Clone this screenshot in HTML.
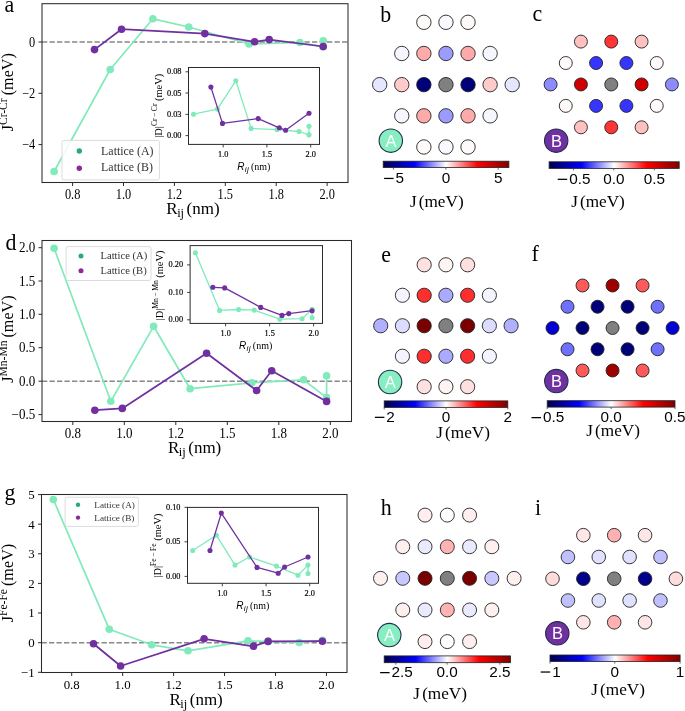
<!DOCTYPE html>
<html><head><meta charset="utf-8"><title>Figure</title>
<style>html,body{margin:0;padding:0;background:#fff;}svg{display:block;will-change:transform;}</style>
</head><body>
<svg width="685" height="711" viewBox="0 0 685 711">
<defs><linearGradient id="seis" x1="0" x2="1" y1="0" y2="0">
<stop offset="0" stop-color="rgb(0,0,77)"/>
<stop offset="0.25" stop-color="rgb(0,0,255)"/>
<stop offset="0.5" stop-color="rgb(255,255,255)"/>
<stop offset="0.75" stop-color="rgb(255,0,0)"/>
<stop offset="1" stop-color="rgb(128,0,0)"/>
</linearGradient></defs>
<rect width="685" height="711" fill="#fff"/>
<line x1="42" y1="42" x2="348" y2="42" stroke="#888" stroke-width="1.4" stroke-dasharray="5.3 2.2"/>
<polyline points="54.1,171.5 110.2,69.5 152.9,18.8 188.7,27 249,44 299.9,42.5 323.2,46.9 323.2,40.9" fill="none" stroke="#81eabb" stroke-width="1.7" stroke-linejoin="round" stroke-linecap="round"/>
<circle cx="54.1" cy="171.5" r="3.8" fill="#81eabb"/>
<circle cx="110.2" cy="69.5" r="3.8" fill="#81eabb"/>
<circle cx="152.9" cy="18.8" r="3.8" fill="#81eabb"/>
<circle cx="188.7" cy="27" r="3.8" fill="#81eabb"/>
<circle cx="249" cy="44" r="3.8" fill="#81eabb"/>
<circle cx="299.9" cy="42.5" r="3.8" fill="#81eabb"/>
<circle cx="323.2" cy="46.9" r="3.8" fill="#81eabb"/>
<circle cx="323.2" cy="40.9" r="3.8" fill="#81eabb"/>
<polyline points="94.5,49.6 121.5,29.2 204.8,33.6 254.6,41.8 269.2,39.6 323.2,46.5" fill="none" stroke="#7030a0" stroke-width="1.75" stroke-linejoin="round" stroke-linecap="round"/>
<circle cx="94.5" cy="49.6" r="3.8" fill="#7030a0"/>
<circle cx="121.5" cy="29.2" r="3.8" fill="#7030a0"/>
<circle cx="204.8" cy="33.6" r="3.8" fill="#7030a0"/>
<circle cx="254.6" cy="41.8" r="3.8" fill="#7030a0"/>
<circle cx="269.2" cy="39.6" r="3.8" fill="#7030a0"/>
<circle cx="323.2" cy="46.5" r="3.8" fill="#7030a0"/>
<rect x="62" y="140.4" width="97.4" height="39.5" rx="2" fill="#fff" fill-opacity="0.85" stroke="#dcdcdc" stroke-width="1"/>
<circle cx="79.3" cy="151" r="2.7" fill="#2aa87e"/>
<circle cx="79.3" cy="168.3" r="2.7" fill="#8b2a96"/>
<text x="101.1" y="154.5" font-size="11.9" text-anchor="start" font-family="'Liberation Serif', serif" fill="#333" >Lattice (A)</text>
<text x="101.1" y="171.3" font-size="11.9" text-anchor="start" font-family="'Liberation Serif', serif" fill="#333" >Lattice (B)</text>
<rect x="188.5" y="67.5" width="131" height="76.9" fill="#fff" stroke="none"/>
<polyline points="193.5,114.2 217.4,109.1 235.8,80.8 251.1,128.4 276.9,129.6 299,131.5 309,134.9 309,126.2" fill="none" stroke="#81eabb" stroke-width="1.3" stroke-linejoin="round" stroke-linecap="round"/>
<circle cx="193.5" cy="114.2" r="2.55" fill="#81eabb"/>
<circle cx="217.4" cy="109.1" r="2.55" fill="#81eabb"/>
<circle cx="235.8" cy="80.8" r="2.55" fill="#81eabb"/>
<circle cx="251.1" cy="128.4" r="2.55" fill="#81eabb"/>
<circle cx="276.9" cy="129.6" r="2.55" fill="#81eabb"/>
<circle cx="299" cy="131.5" r="2.55" fill="#81eabb"/>
<circle cx="309" cy="134.9" r="2.55" fill="#81eabb"/>
<circle cx="309" cy="126.2" r="2.55" fill="#81eabb"/>
<polyline points="210.9,87.1 222.5,123.4 258.2,118.6 279.3,127.8 285.6,130.2 309,113.3" fill="none" stroke="#7030a0" stroke-width="1.3" stroke-linejoin="round" stroke-linecap="round"/>
<circle cx="210.9" cy="87.1" r="2.55" fill="#7030a0"/>
<circle cx="222.5" cy="123.4" r="2.55" fill="#7030a0"/>
<circle cx="258.2" cy="118.6" r="2.55" fill="#7030a0"/>
<circle cx="279.3" cy="127.8" r="2.55" fill="#7030a0"/>
<circle cx="285.6" cy="130.2" r="2.55" fill="#7030a0"/>
<circle cx="309" cy="113.3" r="2.55" fill="#7030a0"/>
<rect x="188.5" y="67.5" width="131" height="76.9" fill="none" stroke="#2a2a2a" stroke-width="1.0"/>
<line x1="185.5" y1="71.8" x2="188.5" y2="71.8" stroke="#2a2a2a" stroke-width="0.9"/>
<text transform="translate(181.5 74.3) scale(0.9 1)" font-size="9.2" text-anchor="end" font-family="'Liberation Serif', serif" fill="#000" stroke="#000" stroke-width="0.2">0.08</text>
<line x1="185.5" y1="93" x2="188.5" y2="93" stroke="#2a2a2a" stroke-width="0.9"/>
<text transform="translate(181.5 95.5) scale(0.9 1)" font-size="9.2" text-anchor="end" font-family="'Liberation Serif', serif" fill="#000" stroke="#000" stroke-width="0.2">0.05</text>
<line x1="185.5" y1="114.4" x2="188.5" y2="114.4" stroke="#2a2a2a" stroke-width="0.9"/>
<text transform="translate(181.5 116.9) scale(0.9 1)" font-size="9.2" text-anchor="end" font-family="'Liberation Serif', serif" fill="#000" stroke="#000" stroke-width="0.2">0.03</text>
<line x1="185.5" y1="135.6" x2="188.5" y2="135.6" stroke="#2a2a2a" stroke-width="0.9"/>
<text transform="translate(181.5 138.1) scale(0.9 1)" font-size="9.2" text-anchor="end" font-family="'Liberation Serif', serif" fill="#000" stroke="#000" stroke-width="0.2">0.00</text>
<line x1="223.2" y1="144.4" x2="223.2" y2="147.4" stroke="#2a2a2a" stroke-width="0.9"/>
<text transform="translate(223.2 157.2) scale(0.9 1)" font-size="9.2" text-anchor="middle" font-family="'Liberation Serif', serif" fill="#000" stroke="#000" stroke-width="0.2">1.0</text>
<line x1="266.9" y1="144.4" x2="266.9" y2="147.4" stroke="#2a2a2a" stroke-width="0.9"/>
<text transform="translate(266.9 157.2) scale(0.9 1)" font-size="9.2" text-anchor="middle" font-family="'Liberation Serif', serif" fill="#000" stroke="#000" stroke-width="0.2">1.5</text>
<line x1="310.7" y1="144.4" x2="310.7" y2="147.4" stroke="#2a2a2a" stroke-width="0.9"/>
<text transform="translate(310.7 157.2) scale(0.9 1)" font-size="9.2" text-anchor="middle" font-family="'Liberation Serif', serif" fill="#000" stroke="#000" stroke-width="0.2">2.0</text>
<text x="253.8" y="169.5" font-size="10" text-anchor="middle" font-family="'Liberation Serif', serif"><tspan font-family="'Liberation Sans', sans-serif" font-style="italic">R</tspan><tspan font-family="'Liberation Sans', sans-serif" font-style="italic" font-size="8" dy="2" dx="0.3" letter-spacing="0.4">ij</tspan><tspan dy="-2" dx="-0.6"> (nm)</tspan></text>
<text transform="translate(161.6 105.8) rotate(-90)" font-size="10.4" text-anchor="middle" font-family="'Liberation Serif', serif">|D|<tspan font-size="7.6" dy="-5">Cr − Cr</tspan><tspan dy="5"> (meV)</tspan></text>
<rect x="42" y="3.7" width="306" height="178.8" fill="none" stroke="#2a2a2a" stroke-width="1.05"/>
<line x1="38.5" y1="42" x2="42" y2="42" stroke="#2a2a2a" stroke-width="1"/>
<text transform="translate(35.2 46.7) scale(0.87 1)" font-size="14.2" text-anchor="end" font-family="'Liberation Serif', serif" fill="#000" >0</text>
<line x1="38.5" y1="93.3" x2="42" y2="93.3" stroke="#2a2a2a" stroke-width="1"/>
<text transform="translate(35.2 98) scale(0.87 1)" font-size="14.2" text-anchor="end" font-family="'Liberation Serif', serif" fill="#000" >−2</text>
<line x1="38.5" y1="144.6" x2="42" y2="144.6" stroke="#2a2a2a" stroke-width="1"/>
<text transform="translate(35.2 149.3) scale(0.87 1)" font-size="14.2" text-anchor="end" font-family="'Liberation Serif', serif" fill="#000" >−4</text>
<line x1="72.6" y1="182.5" x2="72.6" y2="186" stroke="#2a2a2a" stroke-width="1"/>
<text transform="translate(72.6 198.7) scale(0.87 1)" font-size="14.2" text-anchor="middle" font-family="'Liberation Serif', serif" fill="#000" >0.8</text>
<line x1="123.5" y1="182.5" x2="123.5" y2="186" stroke="#2a2a2a" stroke-width="1"/>
<text transform="translate(123.5 198.7) scale(0.87 1)" font-size="14.2" text-anchor="middle" font-family="'Liberation Serif', serif" fill="#000" >1.0</text>
<line x1="174.4" y1="182.5" x2="174.4" y2="186" stroke="#2a2a2a" stroke-width="1"/>
<text transform="translate(174.4 198.7) scale(0.87 1)" font-size="14.2" text-anchor="middle" font-family="'Liberation Serif', serif" fill="#000" >1.2</text>
<line x1="225.3" y1="182.5" x2="225.3" y2="186" stroke="#2a2a2a" stroke-width="1"/>
<text transform="translate(225.3 198.7) scale(0.87 1)" font-size="14.2" text-anchor="middle" font-family="'Liberation Serif', serif" fill="#000" >1.5</text>
<line x1="276.2" y1="182.5" x2="276.2" y2="186" stroke="#2a2a2a" stroke-width="1"/>
<text transform="translate(276.2 198.7) scale(0.87 1)" font-size="14.2" text-anchor="middle" font-family="'Liberation Serif', serif" fill="#000" >1.8</text>
<line x1="327.1" y1="182.5" x2="327.1" y2="186" stroke="#2a2a2a" stroke-width="1"/>
<text transform="translate(327.1 198.7) scale(0.87 1)" font-size="14.2" text-anchor="middle" font-family="'Liberation Serif', serif" fill="#000" >2.0</text>
<text x="166.3" y="213.9" font-size="17" font-family="'Liberation Serif', serif">R<tspan font-size="12.5" dy="3.5" dx="-0.5">ij</tspan><tspan dy="-3.5" dx="-1.8"> (nm)</tspan></text>
<text transform="translate(13 92.2) rotate(-90)" font-size="16.2" text-anchor="middle" font-family="'Liberation Serif', serif">J<tspan font-size="11.5" dy="-6.5">Cr-Cr</tspan><tspan dy="6.5" dx="-1"> (meV)</tspan></text>
<text transform="translate(4.5 11.6) scale(0.94 1)" font-size="23.3" text-anchor="start" font-family="'Liberation Serif', serif" fill="#000" >a</text>
<line x1="42" y1="381.3" x2="351.5" y2="381.3" stroke="#888" stroke-width="1.4" stroke-dasharray="5.3 2.2"/>
<polyline points="54.1,248.3 110.8,401.3 153.6,326.3 190.1,388.7 251.9,382.8 303.6,379.8 326.6,397.6 326.6,375.7" fill="none" stroke="#81eabb" stroke-width="1.7" stroke-linejoin="round" stroke-linecap="round"/>
<circle cx="54.1" cy="248.3" r="3.8" fill="#81eabb"/>
<circle cx="110.8" cy="401.3" r="3.8" fill="#81eabb"/>
<circle cx="153.6" cy="326.3" r="3.8" fill="#81eabb"/>
<circle cx="190.1" cy="388.7" r="3.8" fill="#81eabb"/>
<circle cx="251.9" cy="382.8" r="3.8" fill="#81eabb"/>
<circle cx="303.6" cy="379.8" r="3.8" fill="#81eabb"/>
<circle cx="326.6" cy="397.6" r="3.8" fill="#81eabb"/>
<circle cx="326.6" cy="375.7" r="3.8" fill="#81eabb"/>
<polyline points="94.8,410.2 122.3,408.4 206.6,353.2 256.6,390.5 271.7,370.7 326.6,401.4" fill="none" stroke="#7030a0" stroke-width="1.75" stroke-linejoin="round" stroke-linecap="round"/>
<circle cx="94.8" cy="410.2" r="3.8" fill="#7030a0"/>
<circle cx="122.3" cy="408.4" r="3.8" fill="#7030a0"/>
<circle cx="206.6" cy="353.2" r="3.8" fill="#7030a0"/>
<circle cx="256.6" cy="390.5" r="3.8" fill="#7030a0"/>
<circle cx="271.7" cy="370.7" r="3.8" fill="#7030a0"/>
<circle cx="326.6" cy="401.4" r="3.8" fill="#7030a0"/>
<rect x="66.1" y="246.6" width="84.9" height="33.9" rx="2" fill="#fff" fill-opacity="0.85" stroke="#dcdcdc" stroke-width="1"/>
<circle cx="81" cy="256" r="2.5" fill="#2aa87e"/>
<circle cx="81" cy="270.7" r="2.5" fill="#8b2a96"/>
<text x="100.5" y="259.1" font-size="10.6" text-anchor="start" font-family="'Liberation Serif', serif" fill="#333" >Lattice (A)</text>
<text x="100.5" y="273.8" font-size="10.6" text-anchor="start" font-family="'Liberation Serif', serif" fill="#333" >Lattice (B)</text>
<rect x="190.1" y="245.6" width="132.4" height="77.8" fill="#fff" stroke="none"/>
<polyline points="195.4,252.8 219.6,310.4 238.6,309.5 254.2,310.1 279.9,319.2 302.1,318.7 312.1,309.2 312.1,317.8" fill="none" stroke="#81eabb" stroke-width="1.3" stroke-linejoin="round" stroke-linecap="round"/>
<circle cx="195.4" cy="252.8" r="2.55" fill="#81eabb"/>
<circle cx="219.6" cy="310.4" r="2.55" fill="#81eabb"/>
<circle cx="238.6" cy="309.5" r="2.55" fill="#81eabb"/>
<circle cx="254.2" cy="310.1" r="2.55" fill="#81eabb"/>
<circle cx="279.9" cy="319.2" r="2.55" fill="#81eabb"/>
<circle cx="302.1" cy="318.7" r="2.55" fill="#81eabb"/>
<circle cx="312.1" cy="309.2" r="2.55" fill="#81eabb"/>
<circle cx="312.1" cy="317.8" r="2.55" fill="#81eabb"/>
<polyline points="212.8,287.3 224.7,287.9 260.7,307.4 282,315.4 288.8,313.6 312.1,310.7" fill="none" stroke="#7030a0" stroke-width="1.3" stroke-linejoin="round" stroke-linecap="round"/>
<circle cx="212.8" cy="287.3" r="2.55" fill="#7030a0"/>
<circle cx="224.7" cy="287.9" r="2.55" fill="#7030a0"/>
<circle cx="260.7" cy="307.4" r="2.55" fill="#7030a0"/>
<circle cx="282" cy="315.4" r="2.55" fill="#7030a0"/>
<circle cx="288.8" cy="313.6" r="2.55" fill="#7030a0"/>
<circle cx="312.1" cy="310.7" r="2.55" fill="#7030a0"/>
<rect x="190.1" y="245.6" width="132.4" height="77.8" fill="none" stroke="#2a2a2a" stroke-width="1.0"/>
<line x1="187.1" y1="264.9" x2="190.1" y2="264.9" stroke="#2a2a2a" stroke-width="0.9"/>
<text transform="translate(183.1 267.4) scale(0.9 1)" font-size="9.2" text-anchor="end" font-family="'Liberation Serif', serif" fill="#000" stroke="#000" stroke-width="0.2">0.20</text>
<line x1="187.1" y1="292.4" x2="190.1" y2="292.4" stroke="#2a2a2a" stroke-width="0.9"/>
<text transform="translate(183.1 294.9) scale(0.9 1)" font-size="9.2" text-anchor="end" font-family="'Liberation Serif', serif" fill="#000" stroke="#000" stroke-width="0.2">0.10</text>
<line x1="187.1" y1="319.8" x2="190.1" y2="319.8" stroke="#2a2a2a" stroke-width="0.9"/>
<text transform="translate(183.1 322.3) scale(0.9 1)" font-size="9.2" text-anchor="end" font-family="'Liberation Serif', serif" fill="#000" stroke="#000" stroke-width="0.2">0.00</text>
<line x1="225.6" y1="323.4" x2="225.6" y2="326.4" stroke="#2a2a2a" stroke-width="0.9"/>
<text transform="translate(225.6 336.2) scale(0.9 1)" font-size="9.2" text-anchor="middle" font-family="'Liberation Serif', serif" fill="#000" stroke="#000" stroke-width="0.2">1.0</text>
<line x1="269.6" y1="323.4" x2="269.6" y2="326.4" stroke="#2a2a2a" stroke-width="0.9"/>
<text transform="translate(269.6 336.2) scale(0.9 1)" font-size="9.2" text-anchor="middle" font-family="'Liberation Serif', serif" fill="#000" stroke="#000" stroke-width="0.2">1.5</text>
<line x1="313.6" y1="323.4" x2="313.6" y2="326.4" stroke="#2a2a2a" stroke-width="0.9"/>
<text transform="translate(313.6 336.2) scale(0.9 1)" font-size="9.2" text-anchor="middle" font-family="'Liberation Serif', serif" fill="#000" stroke="#000" stroke-width="0.2">2.0</text>
<text x="255.7" y="348.5" font-size="10" text-anchor="middle" font-family="'Liberation Serif', serif"><tspan font-family="'Liberation Sans', sans-serif" font-style="italic">R</tspan><tspan font-family="'Liberation Sans', sans-serif" font-style="italic" font-size="8" dy="2" dx="0.3" letter-spacing="0.4">ij</tspan><tspan dy="-2" dx="-0.6"> (nm)</tspan></text>
<text transform="translate(163.2 285.5) rotate(-90)" font-size="10.4" text-anchor="middle" font-family="'Liberation Serif', serif">|D|<tspan font-size="7.6" dy="-5">Mn − Mn</tspan><tspan dy="5"> (meV)</tspan></text>
<rect x="42" y="240.5" width="309.5" height="181" fill="none" stroke="#2a2a2a" stroke-width="1.05"/>
<line x1="38.5" y1="247.7" x2="42" y2="247.7" stroke="#2a2a2a" stroke-width="1"/>
<text transform="translate(35.2 252.23) scale(0.95 1)" font-size="13.7" text-anchor="end" font-family="'Liberation Serif', serif" fill="#000" >2.0</text>
<line x1="38.5" y1="281" x2="42" y2="281" stroke="#2a2a2a" stroke-width="1"/>
<text transform="translate(35.2 285.53) scale(0.95 1)" font-size="13.7" text-anchor="end" font-family="'Liberation Serif', serif" fill="#000" >1.5</text>
<line x1="38.5" y1="314.3" x2="42" y2="314.3" stroke="#2a2a2a" stroke-width="1"/>
<text transform="translate(35.2 318.83) scale(0.95 1)" font-size="13.7" text-anchor="end" font-family="'Liberation Serif', serif" fill="#000" >1.0</text>
<line x1="38.5" y1="347.7" x2="42" y2="347.7" stroke="#2a2a2a" stroke-width="1"/>
<text transform="translate(35.2 352.23) scale(0.95 1)" font-size="13.7" text-anchor="end" font-family="'Liberation Serif', serif" fill="#000" >0.5</text>
<line x1="38.5" y1="381.2" x2="42" y2="381.2" stroke="#2a2a2a" stroke-width="1"/>
<text transform="translate(35.2 385.73) scale(0.95 1)" font-size="13.7" text-anchor="end" font-family="'Liberation Serif', serif" fill="#000" >0.0</text>
<line x1="38.5" y1="414.6" x2="42" y2="414.6" stroke="#2a2a2a" stroke-width="1"/>
<text transform="translate(35.2 419.13) scale(0.95 1)" font-size="13.7" text-anchor="end" font-family="'Liberation Serif', serif" fill="#000" >−0.5</text>
<line x1="72.8" y1="421.5" x2="72.8" y2="425" stroke="#2a2a2a" stroke-width="1"/>
<text transform="translate(72.8 437.7) scale(0.95 1)" font-size="13.7" text-anchor="middle" font-family="'Liberation Serif', serif" fill="#000" >0.8</text>
<line x1="124.3" y1="421.5" x2="124.3" y2="425" stroke="#2a2a2a" stroke-width="1"/>
<text transform="translate(124.3 437.7) scale(0.95 1)" font-size="13.7" text-anchor="middle" font-family="'Liberation Serif', serif" fill="#000" >1.0</text>
<line x1="175.8" y1="421.5" x2="175.8" y2="425" stroke="#2a2a2a" stroke-width="1"/>
<text transform="translate(175.8 437.7) scale(0.95 1)" font-size="13.7" text-anchor="middle" font-family="'Liberation Serif', serif" fill="#000" >1.2</text>
<line x1="227.3" y1="421.5" x2="227.3" y2="425" stroke="#2a2a2a" stroke-width="1"/>
<text transform="translate(227.3 437.7) scale(0.95 1)" font-size="13.7" text-anchor="middle" font-family="'Liberation Serif', serif" fill="#000" >1.5</text>
<line x1="278.8" y1="421.5" x2="278.8" y2="425" stroke="#2a2a2a" stroke-width="1"/>
<text transform="translate(278.8 437.7) scale(0.95 1)" font-size="13.7" text-anchor="middle" font-family="'Liberation Serif', serif" fill="#000" >1.8</text>
<line x1="330.3" y1="421.5" x2="330.3" y2="425" stroke="#2a2a2a" stroke-width="1"/>
<text transform="translate(330.3 437.7) scale(0.95 1)" font-size="13.7" text-anchor="middle" font-family="'Liberation Serif', serif" fill="#000" >2.0</text>
<text x="168" y="452.9" font-size="17" font-family="'Liberation Serif', serif">R<tspan font-size="12.5" dy="3.5" dx="-0.5">ij</tspan><tspan dy="-3.5" dx="-1.8"> (nm)</tspan></text>
<text transform="translate(13 339) rotate(-90)" font-size="16.2" text-anchor="middle" font-family="'Liberation Serif', serif">J<tspan font-size="11.5" dy="-6.5">Mn-Mn</tspan><tspan dy="6.5" dx="-1"> (meV)</tspan></text>
<text transform="translate(5.5 250.3) scale(0.94 1)" font-size="23.3" text-anchor="start" font-family="'Liberation Serif', serif" fill="#000" >d</text>
<line x1="41.5" y1="642.7" x2="347" y2="642.7" stroke="#888" stroke-width="1.4" stroke-dasharray="5.3 2.2"/>
<polyline points="53.3,499.5 109.3,629.3 151.7,644.8 188,650.8 248,640.8 268.1,641.4 299.3,642.5 322.4,640.3" fill="none" stroke="#81eabb" stroke-width="1.7" stroke-linejoin="round" stroke-linecap="round"/>
<circle cx="53.3" cy="499.5" r="3.8" fill="#81eabb"/>
<circle cx="109.3" cy="629.3" r="3.8" fill="#81eabb"/>
<circle cx="151.7" cy="644.8" r="3.8" fill="#81eabb"/>
<circle cx="188" cy="650.8" r="3.8" fill="#81eabb"/>
<circle cx="248" cy="640.8" r="3.8" fill="#81eabb"/>
<circle cx="268.1" cy="641.4" r="3.8" fill="#81eabb"/>
<circle cx="299.3" cy="642.5" r="3.8" fill="#81eabb"/>
<circle cx="322.4" cy="640.3" r="3.8" fill="#81eabb"/>
<polyline points="93.5,643.8 120.6,666 204.1,638.8 253.5,646.3 268.1,641.4 322.4,641.2" fill="none" stroke="#7030a0" stroke-width="1.75" stroke-linejoin="round" stroke-linecap="round"/>
<circle cx="93.5" cy="643.8" r="3.8" fill="#7030a0"/>
<circle cx="120.6" cy="666" r="3.8" fill="#7030a0"/>
<circle cx="204.1" cy="638.8" r="3.8" fill="#7030a0"/>
<circle cx="253.5" cy="646.3" r="3.8" fill="#7030a0"/>
<circle cx="268.1" cy="641.4" r="3.8" fill="#7030a0"/>
<circle cx="322.4" cy="641.2" r="3.8" fill="#7030a0"/>
<rect x="65.1" y="497.2" width="73.2" height="29.2" rx="2" fill="#fff" fill-opacity="0.85" stroke="#dcdcdc" stroke-width="1"/>
<circle cx="78" cy="504.7" r="2.2" fill="#2aa87e"/>
<circle cx="78" cy="517.6" r="2.2" fill="#8b2a96"/>
<text x="94.3" y="508.2" font-size="9.2" text-anchor="start" font-family="'Liberation Serif', serif" fill="#333" >Lattice (A)</text>
<text x="94.3" y="520.9" font-size="9.2" text-anchor="start" font-family="'Liberation Serif', serif" fill="#333" >Lattice (B)</text>
<rect x="187.5" y="507.4" width="131" height="75.9" fill="#fff" stroke="none"/>
<polyline points="192.7,550.5 216.4,535.2 235,565.1 249.6,557 276.5,566.1 298,575.2 308,565.1 308,573.5" fill="none" stroke="#81eabb" stroke-width="1.3" stroke-linejoin="round" stroke-linecap="round"/>
<circle cx="192.7" cy="550.5" r="2.55" fill="#81eabb"/>
<circle cx="216.4" cy="535.2" r="2.55" fill="#81eabb"/>
<circle cx="235" cy="565.1" r="2.55" fill="#81eabb"/>
<circle cx="249.6" cy="557" r="2.55" fill="#81eabb"/>
<circle cx="276.5" cy="566.1" r="2.55" fill="#81eabb"/>
<circle cx="298" cy="575.2" r="2.55" fill="#81eabb"/>
<circle cx="308" cy="565.1" r="2.55" fill="#81eabb"/>
<circle cx="308" cy="573.5" r="2.55" fill="#81eabb"/>
<polyline points="210,550.5 221.3,513.1 257,567.4 278.2,573.2 284.6,567 308,557" fill="none" stroke="#7030a0" stroke-width="1.3" stroke-linejoin="round" stroke-linecap="round"/>
<circle cx="210" cy="550.5" r="2.55" fill="#7030a0"/>
<circle cx="221.3" cy="513.1" r="2.55" fill="#7030a0"/>
<circle cx="257" cy="567.4" r="2.55" fill="#7030a0"/>
<circle cx="278.2" cy="573.2" r="2.55" fill="#7030a0"/>
<circle cx="284.6" cy="567" r="2.55" fill="#7030a0"/>
<circle cx="308" cy="557" r="2.55" fill="#7030a0"/>
<rect x="187.5" y="507.4" width="131" height="75.9" fill="none" stroke="#2a2a2a" stroke-width="1.0"/>
<line x1="184.5" y1="507.3" x2="187.5" y2="507.3" stroke="#2a2a2a" stroke-width="0.9"/>
<text transform="translate(180.5 509.8) scale(0.9 1)" font-size="9.2" text-anchor="end" font-family="'Liberation Serif', serif" fill="#000" stroke="#000" stroke-width="0.2">0.10</text>
<line x1="184.5" y1="541.8" x2="187.5" y2="541.8" stroke="#2a2a2a" stroke-width="0.9"/>
<text transform="translate(180.5 544.3) scale(0.9 1)" font-size="9.2" text-anchor="end" font-family="'Liberation Serif', serif" fill="#000" stroke="#000" stroke-width="0.2">0.05</text>
<line x1="184.5" y1="576.4" x2="187.5" y2="576.4" stroke="#2a2a2a" stroke-width="0.9"/>
<text transform="translate(180.5 578.9) scale(0.9 1)" font-size="9.2" text-anchor="end" font-family="'Liberation Serif', serif" fill="#000" stroke="#000" stroke-width="0.2">0.00</text>
<line x1="222.3" y1="583.3" x2="222.3" y2="586.3" stroke="#2a2a2a" stroke-width="0.9"/>
<text transform="translate(222.3 596.1) scale(0.9 1)" font-size="9.2" text-anchor="middle" font-family="'Liberation Serif', serif" fill="#000" stroke="#000" stroke-width="0.2">1.0</text>
<line x1="266.1" y1="583.3" x2="266.1" y2="586.3" stroke="#2a2a2a" stroke-width="0.9"/>
<text transform="translate(266.1 596.1) scale(0.9 1)" font-size="9.2" text-anchor="middle" font-family="'Liberation Serif', serif" fill="#000" stroke="#000" stroke-width="0.2">1.5</text>
<line x1="309.7" y1="583.3" x2="309.7" y2="586.3" stroke="#2a2a2a" stroke-width="0.9"/>
<text transform="translate(309.7 596.1) scale(0.9 1)" font-size="9.2" text-anchor="middle" font-family="'Liberation Serif', serif" fill="#000" stroke="#000" stroke-width="0.2">2.0</text>
<text x="252.8" y="608.5" font-size="10" text-anchor="middle" font-family="'Liberation Serif', serif"><tspan font-family="'Liberation Sans', sans-serif" font-style="italic">R</tspan><tspan font-family="'Liberation Sans', sans-serif" font-style="italic" font-size="8" dy="2" dx="0.3" letter-spacing="0.4">ij</tspan><tspan dy="-2" dx="-0.6"> (nm)</tspan></text>
<text transform="translate(160.6 545.6) rotate(-90)" font-size="10.4" text-anchor="middle" font-family="'Liberation Serif', serif">|D|<tspan font-size="7.6" dy="-5">Fe − Fe</tspan><tspan dy="5"> (meV)</tspan></text>
<rect x="41.5" y="494.5" width="305.5" height="178" fill="none" stroke="#2a2a2a" stroke-width="1.05"/>
<line x1="38" y1="494.6" x2="41.5" y2="494.6" stroke="#2a2a2a" stroke-width="1"/>
<text transform="translate(34.7 499.03) scale(0.96 1)" font-size="13.4" text-anchor="end" font-family="'Liberation Serif', serif" fill="#000" >5</text>
<line x1="38" y1="524.2" x2="41.5" y2="524.2" stroke="#2a2a2a" stroke-width="1"/>
<text transform="translate(34.7 528.63) scale(0.96 1)" font-size="13.4" text-anchor="end" font-family="'Liberation Serif', serif" fill="#000" >4</text>
<line x1="38" y1="553.8" x2="41.5" y2="553.8" stroke="#2a2a2a" stroke-width="1"/>
<text transform="translate(34.7 558.23) scale(0.96 1)" font-size="13.4" text-anchor="end" font-family="'Liberation Serif', serif" fill="#000" >3</text>
<line x1="38" y1="583.4" x2="41.5" y2="583.4" stroke="#2a2a2a" stroke-width="1"/>
<text transform="translate(34.7 587.83) scale(0.96 1)" font-size="13.4" text-anchor="end" font-family="'Liberation Serif', serif" fill="#000" >2</text>
<line x1="38" y1="613" x2="41.5" y2="613" stroke="#2a2a2a" stroke-width="1"/>
<text transform="translate(34.7 617.43) scale(0.96 1)" font-size="13.4" text-anchor="end" font-family="'Liberation Serif', serif" fill="#000" >1</text>
<line x1="38" y1="642.7" x2="41.5" y2="642.7" stroke="#2a2a2a" stroke-width="1"/>
<text transform="translate(34.7 647.13) scale(0.96 1)" font-size="13.4" text-anchor="end" font-family="'Liberation Serif', serif" fill="#000" >0</text>
<line x1="38" y1="672.3" x2="41.5" y2="672.3" stroke="#2a2a2a" stroke-width="1"/>
<text transform="translate(34.7 676.73) scale(0.96 1)" font-size="13.4" text-anchor="end" font-family="'Liberation Serif', serif" fill="#000" >−1</text>
<line x1="71.7" y1="672.5" x2="71.7" y2="676" stroke="#2a2a2a" stroke-width="1"/>
<text transform="translate(71.7 688.7) scale(0.96 1)" font-size="13.4" text-anchor="middle" font-family="'Liberation Serif', serif" fill="#000" >0.8</text>
<line x1="122.65" y1="672.5" x2="122.65" y2="676" stroke="#2a2a2a" stroke-width="1"/>
<text transform="translate(122.65 688.7) scale(0.96 1)" font-size="13.4" text-anchor="middle" font-family="'Liberation Serif', serif" fill="#000" >1.0</text>
<line x1="173.6" y1="672.5" x2="173.6" y2="676" stroke="#2a2a2a" stroke-width="1"/>
<text transform="translate(173.6 688.7) scale(0.96 1)" font-size="13.4" text-anchor="middle" font-family="'Liberation Serif', serif" fill="#000" >1.2</text>
<line x1="224.55" y1="672.5" x2="224.55" y2="676" stroke="#2a2a2a" stroke-width="1"/>
<text transform="translate(224.55 688.7) scale(0.96 1)" font-size="13.4" text-anchor="middle" font-family="'Liberation Serif', serif" fill="#000" >1.5</text>
<line x1="275.5" y1="672.5" x2="275.5" y2="676" stroke="#2a2a2a" stroke-width="1"/>
<text transform="translate(275.5 688.7) scale(0.96 1)" font-size="13.4" text-anchor="middle" font-family="'Liberation Serif', serif" fill="#000" >1.8</text>
<line x1="326.45" y1="672.5" x2="326.45" y2="676" stroke="#2a2a2a" stroke-width="1"/>
<text transform="translate(326.45 688.7) scale(0.96 1)" font-size="13.4" text-anchor="middle" font-family="'Liberation Serif', serif" fill="#000" >2.0</text>
<text x="169.5" y="704.5" font-size="17" font-family="'Liberation Serif', serif">R<tspan font-size="12.5" dy="3.5" dx="-0.5">ij</tspan><tspan dy="-3.5" dx="-1.8"> (nm)</tspan></text>
<text transform="translate(13 583) rotate(-90)" font-size="16.2" text-anchor="middle" font-family="'Liberation Serif', serif">J<tspan font-size="11.5" dy="-6.5">Fe-Fe</tspan><tspan dy="6.5" dx="-1"> (meV)</tspan></text>
<text transform="translate(4.5 500.3) scale(0.94 1)" font-size="23.3" text-anchor="start" font-family="'Liberation Serif', serif" fill="#000" >g</text>
<circle cx="423.87" cy="22.3" r="7.2" fill="#fffafa" stroke="#222" stroke-width="0.9"/>
<circle cx="445.95" cy="22.3" r="7.2" fill="#f9f9ff" stroke="#222" stroke-width="0.9"/>
<circle cx="468.03" cy="22.3" r="7.2" fill="#fffafa" stroke="#222" stroke-width="0.9"/>
<circle cx="401.78" cy="53.48" r="7.2" fill="#f6f6ff" stroke="#222" stroke-width="0.9"/>
<circle cx="423.87" cy="53.48" r="7.2" fill="#ffaaaa" stroke="#222" stroke-width="0.9"/>
<circle cx="445.95" cy="53.48" r="7.2" fill="#9c9cff" stroke="#222" stroke-width="0.9"/>
<circle cx="468.03" cy="53.48" r="7.2" fill="#ffaaaa" stroke="#222" stroke-width="0.9"/>
<circle cx="490.12" cy="53.48" r="7.2" fill="#f6f6ff" stroke="#222" stroke-width="0.9"/>
<circle cx="379.7" cy="84.65" r="7.2" fill="#e6e6ff" stroke="#222" stroke-width="0.9"/>
<circle cx="401.78" cy="84.65" r="7.2" fill="#ffcaca" stroke="#222" stroke-width="0.9"/>
<circle cx="423.87" cy="84.65" r="7.2" fill="#00007a" stroke="#222" stroke-width="0.9"/>
<circle cx="445.95" cy="84.65" r="7.2" fill="#808080" stroke="#222" stroke-width="0.9"/>
<circle cx="468.03" cy="84.65" r="7.2" fill="#00007a" stroke="#222" stroke-width="0.9"/>
<circle cx="490.12" cy="84.65" r="7.2" fill="#ffcaca" stroke="#222" stroke-width="0.9"/>
<circle cx="512.2" cy="84.65" r="7.2" fill="#e6e6ff" stroke="#222" stroke-width="0.9"/>
<circle cx="401.78" cy="115.83" r="7.2" fill="#f6f6ff" stroke="#222" stroke-width="0.9"/>
<circle cx="423.87" cy="115.83" r="7.2" fill="#ffaaaa" stroke="#222" stroke-width="0.9"/>
<circle cx="445.95" cy="115.83" r="7.2" fill="#9c9cff" stroke="#222" stroke-width="0.9"/>
<circle cx="468.03" cy="115.83" r="7.2" fill="#ffaaaa" stroke="#222" stroke-width="0.9"/>
<circle cx="490.12" cy="115.83" r="7.2" fill="#f6f6ff" stroke="#222" stroke-width="0.9"/>
<circle cx="423.87" cy="147" r="7.2" fill="#fffafa" stroke="#222" stroke-width="0.9"/>
<circle cx="445.95" cy="147" r="7.2" fill="#f9f9ff" stroke="#222" stroke-width="0.9"/>
<circle cx="468.03" cy="147" r="7.2" fill="#fffafa" stroke="#222" stroke-width="0.9"/>
<circle cx="390.8" cy="140.7" r="11.7" fill="#86eec0" stroke="#1f2d4f" stroke-width="1.1"/>
<text x="391" y="146.8" font-size="16.5" text-anchor="middle" font-family="'Liberation Sans', sans-serif" fill="#fff" >A</text>
<rect x="383.2" y="161.2" width="125.7" height="6.4" fill="url(#seis)" stroke="#222" stroke-width="0.8"/>
<line x1="393.4" y1="167.6" x2="393.4" y2="169.6" stroke="#444" stroke-width="0.8"/>
<rect x="384.1" y="177.81" width="9.49" height="1.25" fill="#000"/>
<text x="395.57" y="183" font-size="15.3" text-anchor="start" font-family="'Liberation Sans', sans-serif" fill="#000" >5</text>
<line x1="445.9" y1="167.6" x2="445.9" y2="169.6" stroke="#444" stroke-width="0.8"/>
<text x="441.65" y="183" font-size="15.3" text-anchor="start" font-family="'Liberation Sans', sans-serif" fill="#000" >0</text>
<line x1="498.2" y1="167.6" x2="498.2" y2="169.6" stroke="#444" stroke-width="0.8"/>
<text x="493.95" y="183" font-size="15.3" text-anchor="start" font-family="'Liberation Sans', sans-serif" fill="#000" >5</text>
<text x="436.8" y="207.2" font-size="17.2" text-anchor="middle" font-family="'Liberation Serif', serif" fill="#000" word-spacing="-2.2">J (meV)</text>
<text transform="translate(380.2 21.7) scale(0.94 1)" font-size="23.3" text-anchor="start" font-family="'Liberation Serif', serif" fill="#000" >b</text>
<circle cx="580.92" cy="41.6" r="6.5" fill="#ffc0c0" stroke="#222" stroke-width="0.9"/>
<circle cx="611.25" cy="41.6" r="6.5" fill="#ff3535" stroke="#222" stroke-width="0.9"/>
<circle cx="641.58" cy="41.6" r="6.5" fill="#ffc0c0" stroke="#222" stroke-width="0.9"/>
<circle cx="565.76" cy="63.02" r="6.5" fill="#fff9f9" stroke="#222" stroke-width="0.9"/>
<circle cx="596.09" cy="63.02" r="6.5" fill="#3535ff" stroke="#222" stroke-width="0.9"/>
<circle cx="626.41" cy="63.02" r="6.5" fill="#3535ff" stroke="#222" stroke-width="0.9"/>
<circle cx="656.74" cy="63.02" r="6.5" fill="#fff9f9" stroke="#222" stroke-width="0.9"/>
<circle cx="550.6" cy="84.45" r="6.5" fill="#8c8cff" stroke="#222" stroke-width="0.9"/>
<circle cx="580.92" cy="84.45" r="6.5" fill="#d00000" stroke="#222" stroke-width="0.9"/>
<circle cx="611.25" cy="84.45" r="6.5" fill="#808080" stroke="#222" stroke-width="0.9"/>
<circle cx="641.58" cy="84.45" r="6.5" fill="#d00000" stroke="#222" stroke-width="0.9"/>
<circle cx="671.9" cy="84.45" r="6.5" fill="#8c8cff" stroke="#222" stroke-width="0.9"/>
<circle cx="565.76" cy="105.88" r="6.5" fill="#fff9f9" stroke="#222" stroke-width="0.9"/>
<circle cx="596.09" cy="105.88" r="6.5" fill="#3535ff" stroke="#222" stroke-width="0.9"/>
<circle cx="626.41" cy="105.88" r="6.5" fill="#3535ff" stroke="#222" stroke-width="0.9"/>
<circle cx="656.74" cy="105.88" r="6.5" fill="#fff9f9" stroke="#222" stroke-width="0.9"/>
<circle cx="580.92" cy="127.3" r="6.5" fill="#ffc0c0" stroke="#222" stroke-width="0.9"/>
<circle cx="611.25" cy="127.3" r="6.5" fill="#ff3535" stroke="#222" stroke-width="0.9"/>
<circle cx="641.58" cy="127.3" r="6.5" fill="#ffc0c0" stroke="#222" stroke-width="0.9"/>
<circle cx="556.2" cy="140.7" r="11.7" fill="#7030a0" stroke="#1f2d4f" stroke-width="1.1"/>
<text x="556.4" y="146.8" font-size="16.5" text-anchor="middle" font-family="'Liberation Sans', sans-serif" fill="#fff" >B</text>
<rect x="549.1" y="161.8" width="130.1" height="6.6" fill="url(#seis)" stroke="#222" stroke-width="0.8"/>
<line x1="573.4" y1="168.4" x2="573.4" y2="170.4" stroke="#444" stroke-width="0.8"/>
<rect x="557.72" y="178.71" width="9.49" height="1.25" fill="#000"/>
<text x="569.19" y="183.9" font-size="15.3" text-anchor="start" font-family="'Liberation Sans', sans-serif" fill="#000" >0.5</text>
<line x1="613.8" y1="168.4" x2="613.8" y2="170.4" stroke="#444" stroke-width="0.8"/>
<text x="603.17" y="183.9" font-size="15.3" text-anchor="start" font-family="'Liberation Sans', sans-serif" fill="#000" >0.0</text>
<line x1="654.3" y1="168.4" x2="654.3" y2="170.4" stroke="#444" stroke-width="0.8"/>
<text x="643.67" y="183.9" font-size="15.3" text-anchor="start" font-family="'Liberation Sans', sans-serif" fill="#000" >0.5</text>
<text x="598" y="207.2" font-size="17.2" text-anchor="middle" font-family="'Liberation Serif', serif" fill="#000" word-spacing="-2.2">J (meV)</text>
<text transform="translate(532.4 21.2) scale(0.94 1)" font-size="23.3" text-anchor="start" font-family="'Liberation Serif', serif" fill="#000" >c</text>
<circle cx="424.17" cy="264.8" r="7.1" fill="#ffe0e0" stroke="#222" stroke-width="0.9"/>
<circle cx="445.9" cy="264.8" r="7.1" fill="#fff4f4" stroke="#222" stroke-width="0.9"/>
<circle cx="467.63" cy="264.8" r="7.1" fill="#ffe0e0" stroke="#222" stroke-width="0.9"/>
<circle cx="402.43" cy="295.27" r="7.1" fill="#f4f4ff" stroke="#222" stroke-width="0.9"/>
<circle cx="424.17" cy="295.27" r="7.1" fill="#ff2e2e" stroke="#222" stroke-width="0.9"/>
<circle cx="445.9" cy="295.27" r="7.1" fill="#aaaaff" stroke="#222" stroke-width="0.9"/>
<circle cx="467.63" cy="295.27" r="7.1" fill="#ff2e2e" stroke="#222" stroke-width="0.9"/>
<circle cx="489.37" cy="295.27" r="7.1" fill="#f4f4ff" stroke="#222" stroke-width="0.9"/>
<circle cx="380.7" cy="325.75" r="7.1" fill="#b0b0ff" stroke="#222" stroke-width="0.9"/>
<circle cx="402.43" cy="325.75" r="7.1" fill="#dcdcff" stroke="#222" stroke-width="0.9"/>
<circle cx="424.17" cy="325.75" r="7.1" fill="#7a0000" stroke="#222" stroke-width="0.9"/>
<circle cx="445.9" cy="325.75" r="7.1" fill="#808080" stroke="#222" stroke-width="0.9"/>
<circle cx="467.63" cy="325.75" r="7.1" fill="#7a0000" stroke="#222" stroke-width="0.9"/>
<circle cx="489.37" cy="325.75" r="7.1" fill="#dcdcff" stroke="#222" stroke-width="0.9"/>
<circle cx="511.1" cy="325.75" r="7.1" fill="#b0b0ff" stroke="#222" stroke-width="0.9"/>
<circle cx="402.43" cy="356.23" r="7.1" fill="#f4f4ff" stroke="#222" stroke-width="0.9"/>
<circle cx="424.17" cy="356.23" r="7.1" fill="#ff2e2e" stroke="#222" stroke-width="0.9"/>
<circle cx="445.9" cy="356.23" r="7.1" fill="#aaaaff" stroke="#222" stroke-width="0.9"/>
<circle cx="467.63" cy="356.23" r="7.1" fill="#ff2e2e" stroke="#222" stroke-width="0.9"/>
<circle cx="489.37" cy="356.23" r="7.1" fill="#f4f4ff" stroke="#222" stroke-width="0.9"/>
<circle cx="424.17" cy="386.7" r="7.1" fill="#ffe0e0" stroke="#222" stroke-width="0.9"/>
<circle cx="445.9" cy="386.7" r="7.1" fill="#fff4f4" stroke="#222" stroke-width="0.9"/>
<circle cx="467.63" cy="386.7" r="7.1" fill="#ffe0e0" stroke="#222" stroke-width="0.9"/>
<circle cx="390.1" cy="382" r="11.7" fill="#86eec0" stroke="#1f2d4f" stroke-width="1.1"/>
<text x="390.3" y="388.1" font-size="16.5" text-anchor="middle" font-family="'Liberation Sans', sans-serif" fill="#fff" >A</text>
<rect x="384.2" y="400.9" width="123.6" height="6.5" fill="url(#seis)" stroke="#222" stroke-width="0.8"/>
<line x1="384.2" y1="407.4" x2="384.2" y2="409.4" stroke="#444" stroke-width="0.8"/>
<rect x="374.9" y="416.71" width="9.49" height="1.25" fill="#000"/>
<text x="386.37" y="421.9" font-size="15.3" text-anchor="start" font-family="'Liberation Sans', sans-serif" fill="#000" >2</text>
<line x1="446" y1="407.4" x2="446" y2="409.4" stroke="#444" stroke-width="0.8"/>
<text x="441.75" y="421.9" font-size="15.3" text-anchor="start" font-family="'Liberation Sans', sans-serif" fill="#000" >0</text>
<line x1="507.8" y1="407.4" x2="507.8" y2="409.4" stroke="#444" stroke-width="0.8"/>
<text x="503.55" y="421.9" font-size="15.3" text-anchor="start" font-family="'Liberation Sans', sans-serif" fill="#000" >2</text>
<text x="463.1" y="437.6" font-size="17.2" text-anchor="middle" font-family="'Liberation Serif', serif" fill="#000" word-spacing="-2.2">J (meV)</text>
<text transform="translate(381.2 261.6) scale(0.94 1)" font-size="23.3" text-anchor="start" font-family="'Liberation Serif', serif" fill="#000" >e</text>
<circle cx="582.52" cy="285.5" r="6.5" fill="#ff5a5a" stroke="#222" stroke-width="0.9"/>
<circle cx="612.55" cy="285.5" r="6.5" fill="#a00000" stroke="#222" stroke-width="0.9"/>
<circle cx="642.58" cy="285.5" r="6.5" fill="#ff5a5a" stroke="#222" stroke-width="0.9"/>
<circle cx="567.51" cy="306.75" r="6.5" fill="#7070ff" stroke="#222" stroke-width="0.9"/>
<circle cx="597.54" cy="306.75" r="6.5" fill="#000078" stroke="#222" stroke-width="0.9"/>
<circle cx="627.56" cy="306.75" r="6.5" fill="#000078" stroke="#222" stroke-width="0.9"/>
<circle cx="657.59" cy="306.75" r="6.5" fill="#7070ff" stroke="#222" stroke-width="0.9"/>
<circle cx="552.5" cy="328" r="6.5" fill="#0000d4" stroke="#222" stroke-width="0.9"/>
<circle cx="582.52" cy="328" r="6.5" fill="#000078" stroke="#222" stroke-width="0.9"/>
<circle cx="612.55" cy="328" r="6.5" fill="#808080" stroke="#222" stroke-width="0.9"/>
<circle cx="642.58" cy="328" r="6.5" fill="#000078" stroke="#222" stroke-width="0.9"/>
<circle cx="672.6" cy="328" r="6.5" fill="#0000d4" stroke="#222" stroke-width="0.9"/>
<circle cx="567.51" cy="349.25" r="6.5" fill="#7070ff" stroke="#222" stroke-width="0.9"/>
<circle cx="597.54" cy="349.25" r="6.5" fill="#000078" stroke="#222" stroke-width="0.9"/>
<circle cx="627.56" cy="349.25" r="6.5" fill="#000078" stroke="#222" stroke-width="0.9"/>
<circle cx="657.59" cy="349.25" r="6.5" fill="#7070ff" stroke="#222" stroke-width="0.9"/>
<circle cx="582.52" cy="370.5" r="6.5" fill="#ff5a5a" stroke="#222" stroke-width="0.9"/>
<circle cx="612.55" cy="370.5" r="6.5" fill="#a00000" stroke="#222" stroke-width="0.9"/>
<circle cx="642.58" cy="370.5" r="6.5" fill="#ff5a5a" stroke="#222" stroke-width="0.9"/>
<circle cx="556.3" cy="381.1" r="11.7" fill="#7030a0" stroke="#1f2d4f" stroke-width="1.1"/>
<text x="556.5" y="387.2" font-size="16.5" text-anchor="middle" font-family="'Liberation Sans', sans-serif" fill="#fff" >B</text>
<rect x="547.2" y="400.7" width="127.8" height="6.4" fill="url(#seis)" stroke="#222" stroke-width="0.8"/>
<line x1="547.2" y1="407.1" x2="547.2" y2="409.1" stroke="#444" stroke-width="0.8"/>
<rect x="531.52" y="417.01" width="9.49" height="1.25" fill="#000"/>
<text x="542.99" y="422.2" font-size="15.3" text-anchor="start" font-family="'Liberation Sans', sans-serif" fill="#000" >0.5</text>
<line x1="611.1" y1="407.1" x2="611.1" y2="409.1" stroke="#444" stroke-width="0.8"/>
<text x="600.47" y="422.2" font-size="15.3" text-anchor="start" font-family="'Liberation Sans', sans-serif" fill="#000" >0.0</text>
<line x1="675" y1="407.1" x2="675" y2="409.1" stroke="#444" stroke-width="0.8"/>
<text x="664.37" y="422.2" font-size="15.3" text-anchor="start" font-family="'Liberation Sans', sans-serif" fill="#000" >0.5</text>
<text x="613.1" y="435.9" font-size="17.2" text-anchor="middle" font-family="'Liberation Serif', serif" fill="#000" word-spacing="-2.2">J (meV)</text>
<text transform="translate(531.4 261.3) scale(0.94 1)" font-size="23.3" text-anchor="start" font-family="'Liberation Serif', serif" fill="#000" >f</text>
<circle cx="425.03" cy="515.1" r="7" fill="#ffeeee" stroke="#222" stroke-width="0.9"/>
<circle cx="447.3" cy="515.1" r="7" fill="#fffdfd" stroke="#222" stroke-width="0.9"/>
<circle cx="469.57" cy="515.1" r="7" fill="#ffeeee" stroke="#222" stroke-width="0.9"/>
<circle cx="402.77" cy="546.73" r="7" fill="#fff0f0" stroke="#222" stroke-width="0.9"/>
<circle cx="425.03" cy="546.73" r="7" fill="#eaeaff" stroke="#222" stroke-width="0.9"/>
<circle cx="447.3" cy="546.73" r="7" fill="#ffb4b4" stroke="#222" stroke-width="0.9"/>
<circle cx="469.57" cy="546.73" r="7" fill="#eaeaff" stroke="#222" stroke-width="0.9"/>
<circle cx="491.83" cy="546.73" r="7" fill="#fff0f0" stroke="#222" stroke-width="0.9"/>
<circle cx="380.5" cy="578.35" r="7" fill="#fff0f0" stroke="#222" stroke-width="0.9"/>
<circle cx="402.77" cy="578.35" r="7" fill="#c8c8ff" stroke="#222" stroke-width="0.9"/>
<circle cx="425.03" cy="578.35" r="7" fill="#780000" stroke="#222" stroke-width="0.9"/>
<circle cx="447.3" cy="578.35" r="7" fill="#808080" stroke="#222" stroke-width="0.9"/>
<circle cx="469.57" cy="578.35" r="7" fill="#780000" stroke="#222" stroke-width="0.9"/>
<circle cx="491.83" cy="578.35" r="7" fill="#c8c8ff" stroke="#222" stroke-width="0.9"/>
<circle cx="514.1" cy="578.35" r="7" fill="#fff0f0" stroke="#222" stroke-width="0.9"/>
<circle cx="402.77" cy="609.98" r="7" fill="#fff0f0" stroke="#222" stroke-width="0.9"/>
<circle cx="425.03" cy="609.98" r="7" fill="#eaeaff" stroke="#222" stroke-width="0.9"/>
<circle cx="447.3" cy="609.98" r="7" fill="#ffb4b4" stroke="#222" stroke-width="0.9"/>
<circle cx="469.57" cy="609.98" r="7" fill="#eaeaff" stroke="#222" stroke-width="0.9"/>
<circle cx="491.83" cy="609.98" r="7" fill="#fff0f0" stroke="#222" stroke-width="0.9"/>
<circle cx="425.03" cy="641.6" r="7" fill="#ffeeee" stroke="#222" stroke-width="0.9"/>
<circle cx="447.3" cy="641.6" r="7" fill="#fffdfd" stroke="#222" stroke-width="0.9"/>
<circle cx="469.57" cy="641.6" r="7" fill="#ffeeee" stroke="#222" stroke-width="0.9"/>
<circle cx="389.3" cy="635.1" r="11.7" fill="#86eec0" stroke="#1f2d4f" stroke-width="1.1"/>
<text x="389.5" y="641.2" font-size="16.5" text-anchor="middle" font-family="'Liberation Sans', sans-serif" fill="#fff" >A</text>
<rect x="384.2" y="655.9" width="126.3" height="6.8" fill="url(#seis)" stroke="#222" stroke-width="0.8"/>
<line x1="395.8" y1="662.7" x2="395.8" y2="664.7" stroke="#444" stroke-width="0.8"/>
<rect x="380.12" y="672.01" width="9.49" height="1.25" fill="#000"/>
<text x="391.59" y="677.2" font-size="15.3" text-anchor="start" font-family="'Liberation Sans', sans-serif" fill="#000" >2.5</text>
<line x1="447.1" y1="662.7" x2="447.1" y2="664.7" stroke="#444" stroke-width="0.8"/>
<text x="436.47" y="677.2" font-size="15.3" text-anchor="start" font-family="'Liberation Sans', sans-serif" fill="#000" >0.0</text>
<line x1="499.8" y1="662.7" x2="499.8" y2="664.7" stroke="#444" stroke-width="0.8"/>
<text x="489.17" y="677.2" font-size="15.3" text-anchor="start" font-family="'Liberation Sans', sans-serif" fill="#000" >2.5</text>
<text x="440.2" y="699" font-size="17.2" text-anchor="middle" font-family="'Liberation Serif', serif" fill="#000" word-spacing="-2.2">J (meV)</text>
<text transform="translate(380.7 515.2) scale(0.94 1)" font-size="23.3" text-anchor="start" font-family="'Liberation Serif', serif" fill="#000" >h</text>
<circle cx="583.35" cy="535.2" r="6.8" fill="#ffe6e6" stroke="#222" stroke-width="0.9"/>
<circle cx="614.2" cy="535.2" r="6.8" fill="#ffb0b0" stroke="#222" stroke-width="0.9"/>
<circle cx="645.05" cy="535.2" r="6.8" fill="#ffe6e6" stroke="#222" stroke-width="0.9"/>
<circle cx="567.92" cy="556.98" r="6.8" fill="#c0c0ff" stroke="#222" stroke-width="0.9"/>
<circle cx="598.77" cy="556.98" r="6.8" fill="#e0e0ff" stroke="#222" stroke-width="0.9"/>
<circle cx="629.62" cy="556.98" r="6.8" fill="#e0e0ff" stroke="#222" stroke-width="0.9"/>
<circle cx="660.48" cy="556.98" r="6.8" fill="#c0c0ff" stroke="#222" stroke-width="0.9"/>
<circle cx="552.5" cy="578.75" r="6.8" fill="#ffdcdc" stroke="#222" stroke-width="0.9"/>
<circle cx="583.35" cy="578.75" r="6.8" fill="#00008c" stroke="#222" stroke-width="0.9"/>
<circle cx="614.2" cy="578.75" r="6.8" fill="#808080" stroke="#222" stroke-width="0.9"/>
<circle cx="645.05" cy="578.75" r="6.8" fill="#00008c" stroke="#222" stroke-width="0.9"/>
<circle cx="675.9" cy="578.75" r="6.8" fill="#ffdcdc" stroke="#222" stroke-width="0.9"/>
<circle cx="567.92" cy="600.52" r="6.8" fill="#c0c0ff" stroke="#222" stroke-width="0.9"/>
<circle cx="598.77" cy="600.52" r="6.8" fill="#e0e0ff" stroke="#222" stroke-width="0.9"/>
<circle cx="629.62" cy="600.52" r="6.8" fill="#e0e0ff" stroke="#222" stroke-width="0.9"/>
<circle cx="660.48" cy="600.52" r="6.8" fill="#c0c0ff" stroke="#222" stroke-width="0.9"/>
<circle cx="583.35" cy="622.3" r="6.8" fill="#ffe6e6" stroke="#222" stroke-width="0.9"/>
<circle cx="614.2" cy="622.3" r="6.8" fill="#ffb0b0" stroke="#222" stroke-width="0.9"/>
<circle cx="645.05" cy="622.3" r="6.8" fill="#ffe6e6" stroke="#222" stroke-width="0.9"/>
<circle cx="557.3" cy="633.3" r="11.7" fill="#7030a0" stroke="#1f2d4f" stroke-width="1.1"/>
<text x="557.5" y="639.4" font-size="16.5" text-anchor="middle" font-family="'Liberation Sans', sans-serif" fill="#fff" >B</text>
<rect x="550" y="655" width="130.1" height="6.6" fill="url(#seis)" stroke="#222" stroke-width="0.8"/>
<line x1="550" y1="661.6" x2="550" y2="663.6" stroke="#444" stroke-width="0.8"/>
<rect x="540.7" y="671.41" width="9.49" height="1.25" fill="#000"/>
<text x="552.17" y="676.6" font-size="15.3" text-anchor="start" font-family="'Liberation Sans', sans-serif" fill="#000" >1</text>
<line x1="614.8" y1="661.6" x2="614.8" y2="663.6" stroke="#444" stroke-width="0.8"/>
<text x="610.55" y="676.6" font-size="15.3" text-anchor="start" font-family="'Liberation Sans', sans-serif" fill="#000" >0</text>
<line x1="680.1" y1="661.6" x2="680.1" y2="663.6" stroke="#444" stroke-width="0.8"/>
<text x="675.85" y="676.6" font-size="15.3" text-anchor="start" font-family="'Liberation Sans', sans-serif" fill="#000" >1</text>
<text x="618.1" y="694.9" font-size="17.2" text-anchor="middle" font-family="'Liberation Serif', serif" fill="#000" word-spacing="-2.2">J (meV)</text>
<text transform="translate(535 515.2) scale(0.94 1)" font-size="23.3" text-anchor="start" font-family="'Liberation Serif', serif" fill="#000" >i</text>
</svg>
</body></html>
